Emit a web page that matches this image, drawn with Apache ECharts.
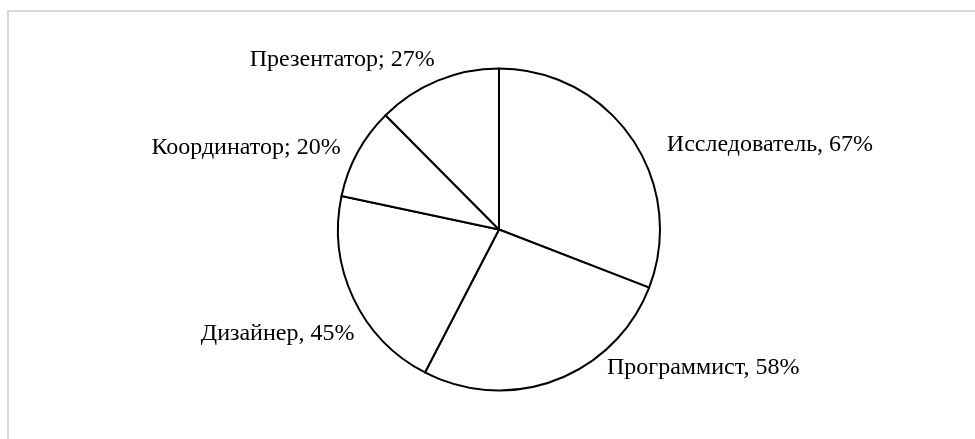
<!DOCTYPE html>
<html>
<head>
<meta charset="utf-8">
<script src="https://cdn.jsdelivr.net/npm/echarts@6/dist/echarts.min.js"></script>
<style>
  html, body { margin: 0; padding: 0; background: #fff; }
  #main { width: 975px; height: 439px; }
</style>
</head>
<body>
<div id="main"></div>
<script>
// roles and their shares (percent), clockwise from 12 o'clock
const roles = ['Исследователь', 'Программист', 'Дизайнер', 'Координатор', 'Презентатор'];
const shares = [67, 58, 45, 20, 27];
// the source mixes ',' and ';' between name and value
const separators = [',', ',', ',', ';', ';'];

// small nudges so labels sit where the original ones do
const labelNudge = [[30, 6], [46, -12], [6, 35], [-12, -5], [2, -21]];

var chartDom = document.getElementById('main');
var myChart = echarts.init(chartDom);

let pieData = roles.map((name, i) => ({ name: name, value: shares[i] }));

var option = {
    backgroundColor: '#fff',
    animation: false,
    graphic: [{
        type: 'rect',
        silent: true,
        shape: { x: 8, y: 11, width: 1200, height: 1200 },
        style: { fill: 'none', stroke: '#d9d9d9', lineWidth: 2 }
    }],
    series: [{
        type: 'pie',
        center: [499, 229.5],
        radius: 161,
        startAngle: 90,
        clockwise: true,
        avoidLabelOverlap: false,
        itemStyle: {
            color: '#fff',
            borderColor: '#000',
            borderWidth: 2
        },
        label: {
            show: true,
            position: 'outside',
            fontFamily: 'Liberation Serif',
            fontSize: 24,
            color: '#000',
            formatter: p => p.name + separators[p.dataIndex] + ' ' + p.value + '%'
        },
        labelLine: { show: false, length: 0, length2: 0 },
        labelLayout: p => ({ dx: labelNudge[p.dataIndex][0], dy: labelNudge[p.dataIndex][1] }),
        emphasis: { disabled: true },
        data: pieData
    }]
};
option && myChart.setOption(option);
</script>
</body>
</html>
